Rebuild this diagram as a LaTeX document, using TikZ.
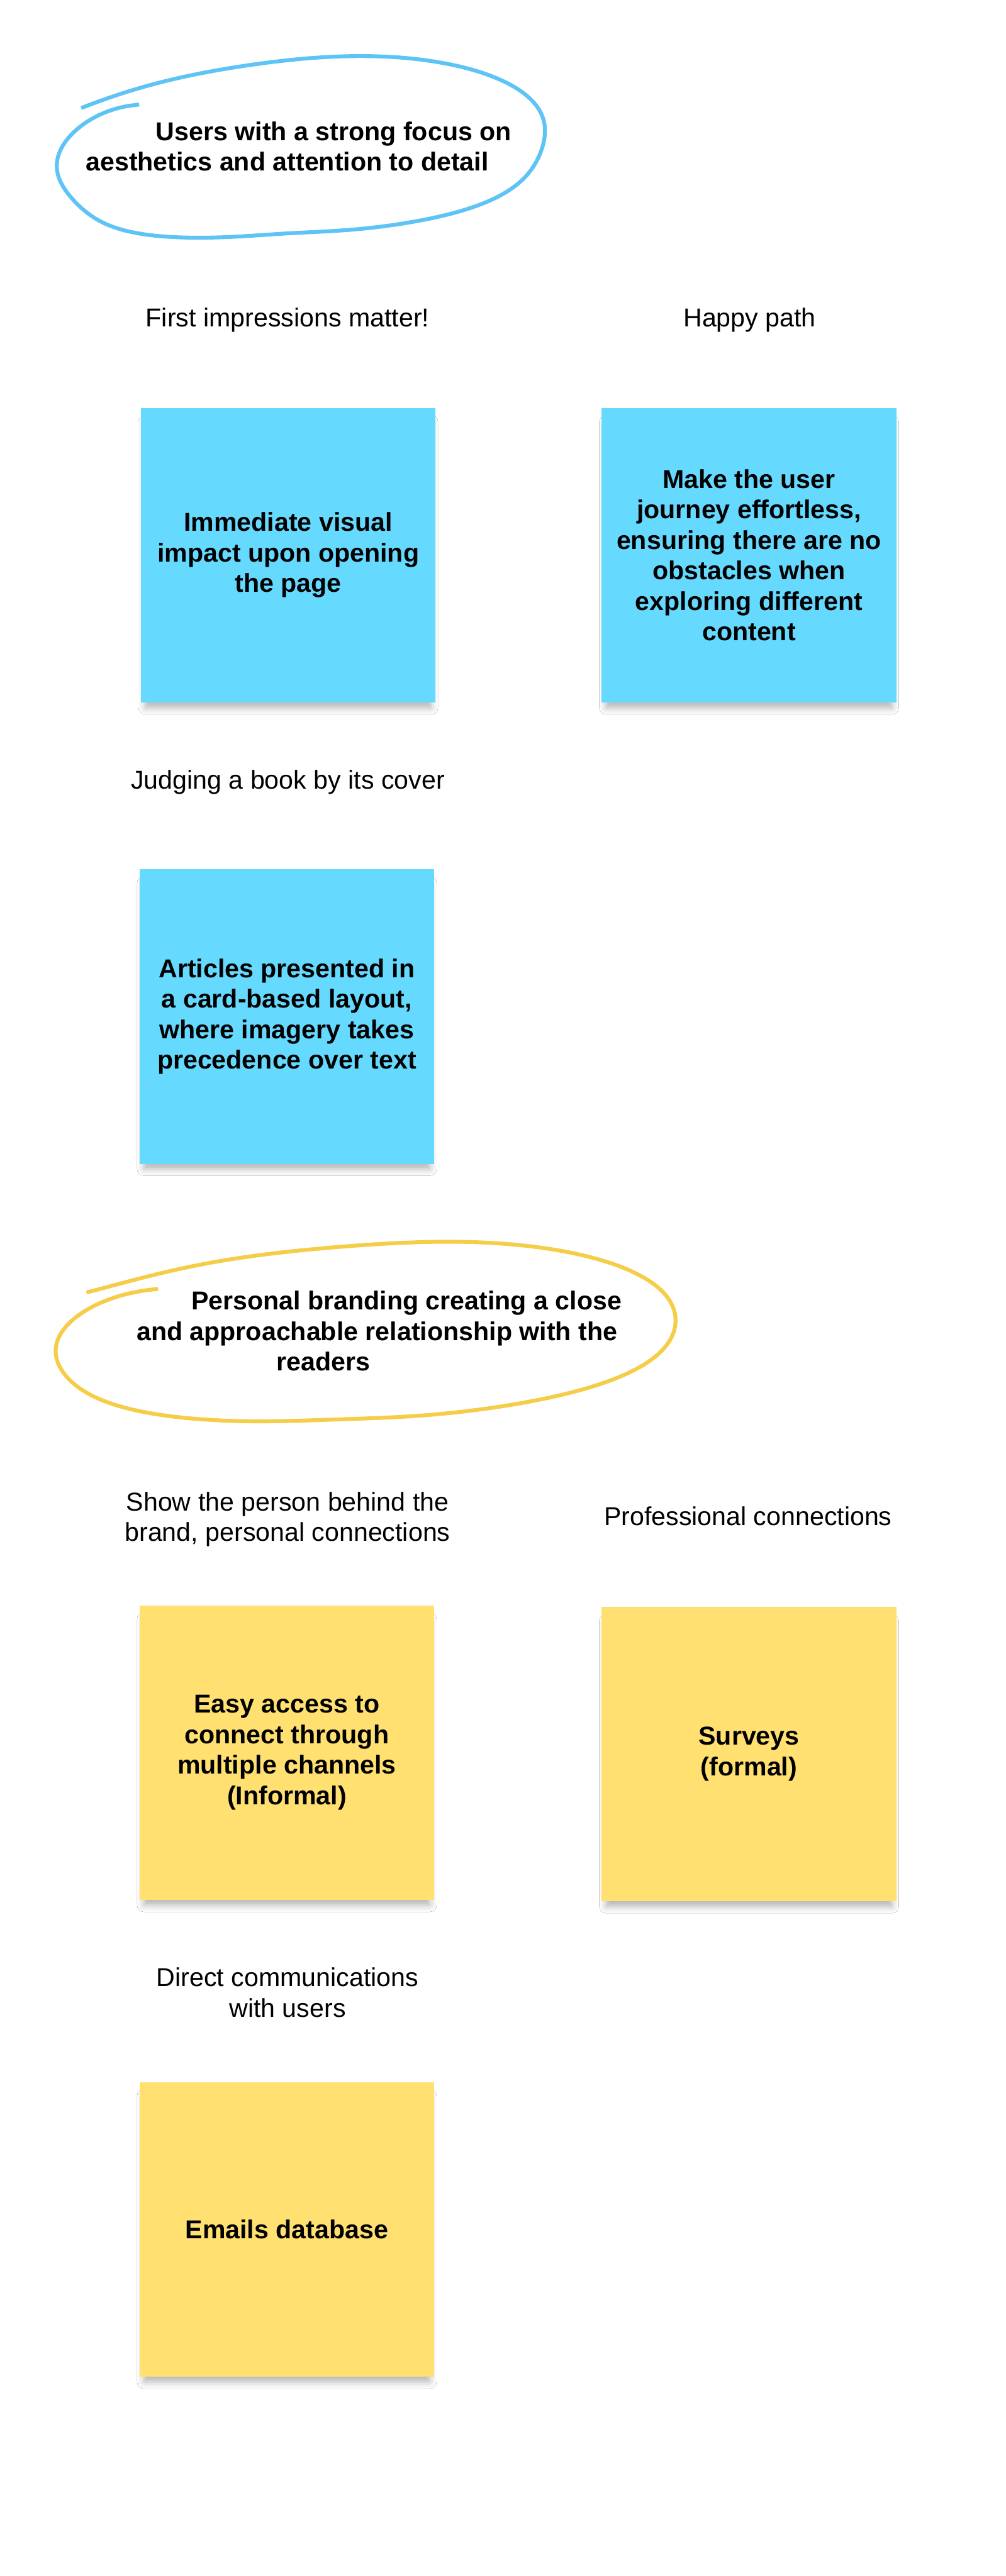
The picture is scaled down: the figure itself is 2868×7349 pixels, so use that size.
\documentclass[tikz,border=0pt]{standalone}
\usepackage{fontspec}
\setmainfont{Liberation Sans}
\usepackage{xcolor}
\definecolor{noteblue}{RGB}{102,217,255}
\definecolor{noteyellow}{RGB}{255,224,112}
\definecolor{loopblue}{RGB}{94,195,245}
\definecolor{loopyellow}{RGB}{245,205,72}
\usetikzlibrary{positioning, shadows.blur}

\begin{document}
\begin{tikzpicture}[x=0.01cm, y=-0.01cm,
  declare function={
    bump(\u,\c,\w)=exp(-((\u-\c)/\w)*((\u-\c)/\w));
    rblue(\u)=1 + 0.097*exp(-(\u-214.8)/20) - 0.098*exp((\u-582.8)/6) - 0.03*bump(\u,258,25)
      + 0.1*bump(\u,405,25) + 0.07*bump(\u,492,20) - 0.035*bump(\u,453,15);
    ryellow(\u)=1 + 0.089*exp(-(\u-214)/12) - 0.10*exp((\u-582)/7) - 0.045*bump(\u,265,25)
      + 0.08*bump(\u,400,30) + 0.05*bump(\u,497,25) - 0.025*bump(\u,455,15);
  },
  sticky/.style={minimum width=8.4cm, minimum height=8.4cm, inner sep=0pt, align=center,
    font=\fontsize{21}{24.75}\selectfont\bfseries,
    blur shadow={shadow xshift=0cm, shadow yshift=-0.28cm, shadow scale=0.97, shadow blur radius=0.2cm, shadow opacity=30}},
  hint/.style={font=\fontsize{21}{24.75}\selectfont, align=center, inner sep=0pt, anchor=base},
  topic/.style={font=\fontsize{21}{24.75}\selectfont\bfseries, align=left, inner sep=0pt, anchor=base west},
  loopline/.style={line width=0.11cm, line cap=butt}]
  \useasboundingbox (0,0) rectangle (2868,7349);
  \fill[white] (0,0) rectangle (2868,7349);

  % Blue theme: aesthetics (hand-drawn loop, slowly closing spiral)
  \draw[loopline, loopblue] plot[smooth, domain=214.8:582.8, samples=150, variable=\t]
    ({856.5 + rblue(\t)*694.5*cos(\t)}, {417.5 + rblue(\t)*(-54.7*cos(\t) + 253.7*sin(\t))});
  \node[topic] (aesthetics) at (244,488) {\hspace*{2.0cm}Users with a strong focus on\\aesthetics and attention to detail};

  \node[hint] (firstimp) at (820,932) {First impressions matter!};
  \node[hint] (happy) at (2138,932) {Happy path};
  \node[sticky, fill=noteblue] (impact) at (822,1584) {Immediate visual\\impact upon opening\\the page};
  \node[sticky, fill=noteblue] (journey) at (2136,1584) {Make the user\\journey effortless,\\ensuring there are no\\obstacles when\\exploring different\\content};

  \node[hint] (cover) at (821,2250) {Judging a book by its cover};
  \node[sticky, fill=noteblue] (cards) at (818,2900) {Articles presented in\\a card-based layout,\\where imagery takes\\precedence over text};

  % Yellow theme: personal branding
  \draw[loopline, loopyellow] plot[smooth, domain=214:582, samples=150, variable=\t]
    ({1036.5 + ryellow(\t)*875.5*cos(\t)}, {3796 + ryellow(\t)*(-51.4*cos(\t) + 254.9*sin(\t))});
  \node[topic] (branding) at (389,3911) {\hspace*{1.56cm}Personal branding creating a close\\and approachable relationship with the\\\hspace*{3.99cm}readers};

  \node[hint] (person) at (820,4397) {Show the person behind the\\brand, personal connections};
  \node[hint] (profess) at (2133,4352) {Professional connections};
  \node[sticky, fill=noteyellow] (channels) at (818,5000) {Easy access to\\connect through\\multiple channels\\(Informal)};
  \node[sticky, fill=noteyellow] (surveys) at (2136,5004) {Surveys\\(formal)};

  \node[hint] (direct) at (820,5754) {Direct communications\\with users};
  \node[sticky, fill=noteyellow] (emails) at (818,6360) {Emails database};
\end{tikzpicture}
\end{document}
